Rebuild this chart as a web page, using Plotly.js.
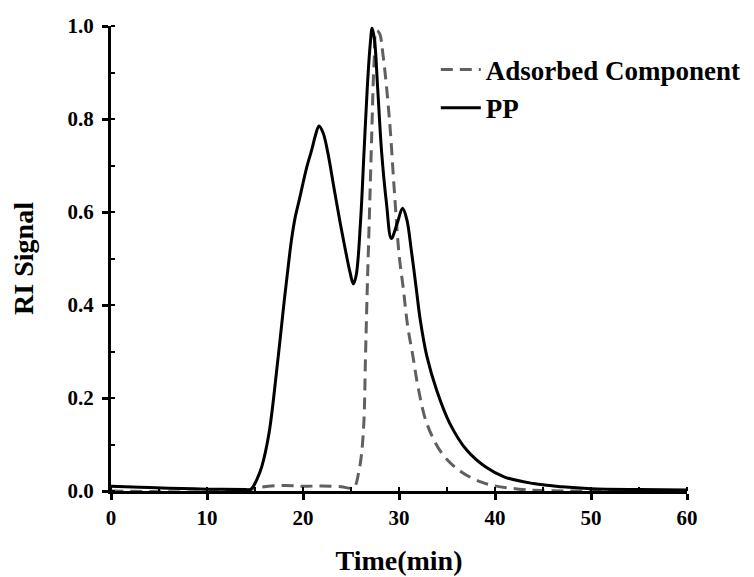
<!DOCTYPE html>
<html>
<head>
<meta charset="utf-8">
<script src="https://cdn.plot.ly/plotly-3.0.1.min.js"></script>
<style>html,body{margin:0;padding:0;background:#fff;}#chart{width:754px;height:577px;}</style>
</head>
<body>
<div id="chart"></div>
<script>
// Data
var ppTime = [0, 3, 6, 10, 14, 14.5, 14.8, 15.2, 15.7, 16.45, 17.3, 18.05, 18.5, 18.8, 19.2, 19.6, 20.4, 20.9, 21.3, 21.67, 22.1, 22.6, 23.2, 23.8, 24.4, 24.9, 25.25, 25.55, 26.0, 26.35, 26.7, 27.0, 27.2, 27.45, 27.77, 28.2, 28.7, 29.2, 29.8, 30.37, 30.8, 31.3, 31.8, 32.2, 32.9, 33.95, 35.3, 37.05, 39.0, 41.0, 44, 47, 50, 55, 60];
var ppSignal = [0.010, 0.008, 0.006, 0.004, 0.003, 0.003, 0.009, 0.025, 0.052, 0.123, 0.267, 0.41, 0.49, 0.54, 0.59, 0.625, 0.697, 0.733, 0.765, 0.785, 0.77, 0.726, 0.655, 0.585, 0.52, 0.47, 0.445, 0.465, 0.582, 0.726, 0.869, 0.96, 0.995, 0.97, 0.869, 0.726, 0.618, 0.543, 0.575, 0.608, 0.585, 0.515, 0.435, 0.37, 0.29, 0.215, 0.145, 0.088, 0.052, 0.030, 0.016, 0.009, 0.005, 0.003, 0.002];

var adsTime = [0, 14, 15.5, 18, 20, 22, 24, 25.0, 25.4, 25.8, 26.1, 26.35, 26.5, 26.7, 26.9, 27.15, 27.4, 27.65, 27.95, 28.35, 29.0, 29.5, 30.0, 30.45, 30.9, 31.45, 32.0, 32.9, 34.5, 36.5, 38.6, 40.0, 42.5, 45, 60];
var adsSignal = [0.0, 0.001, 0.008, 0.012, 0.010, 0.011, 0.009, 0.006, 0.010, 0.04, 0.08, 0.152, 0.28, 0.44, 0.58, 0.76, 0.92, 0.99, 0.985, 0.935, 0.80, 0.65, 0.51, 0.435, 0.355, 0.29, 0.222, 0.145, 0.08, 0.041, 0.019, 0.011, 0.004, 0.001, 0.0];

var seriesNames = ['Adsorbed Component', 'PP'];
var xTitle = 'Time(min)';
var yTitle = 'RI Signal';

var FONT = 'Liberation Serif, Times New Roman, serif';

var traces = [
  {x: adsTime, y: adsSignal, name: seriesNames[0], type: 'scatter', mode: 'lines',
   line: {color: '#606060', width: 3, dash: '12px,7px', shape: 'spline', smoothing: 1.0}},
  {x: ppTime, y: ppSignal, name: seriesNames[1], type: 'scatter', mode: 'lines',
   line: {color: '#000000', width: 3, shape: 'spline', smoothing: 1.0}}
];

var tickFont = {family: FONT, size: 21, color: '#000', weight: 'bold'};
var layout = {
  width: 754, height: 577,
  margin: {l: 111, r: 67, t: 26, b: 86, autoexpand: false},
  paper_bgcolor: '#fff', plot_bgcolor: '#fff',
  showlegend: true,
  legend: {x: 0.578, xref: 'container', y: 0.958, xanchor: 'left', yanchor: 'top', bgcolor: 'rgba(0,0,0,0)',
           font: {family: FONT, size: 27, color: '#000', weight: 'bold'}, itemwidth: 40, tracegroupgap: 0},
  xaxis: {
    range: [0, 60], dtick: 10, tick0: 0, showgrid: false, zeroline: false,
    showline: true, linewidth: 3, linecolor: '#000', mirror: false,
    ticks: 'outside', ticklen: 6, tickwidth: 3, tickcolor: '#000',
    minor: {dtick: 5, ticks: 'inside', ticklen: 4, tickwidth: 2, tickcolor: '#000', showgrid: false},
    tickfont: tickFont,
    title: {text: xTitle, font: {family: FONT, size: 28, color: '#000', weight: 'bold'}, standoff: 22}
  },
  xaxis2: {
    range: [0, 60], dtick: 10, tick0: 0, overlaying: 'x', side: 'bottom', anchor: 'y',
    showgrid: false, zeroline: false, showline: false, showticklabels: false,
    ticks: 'inside', ticklen: 5, tickwidth: 3, tickcolor: '#000'
  },
  yaxis: {
    range: [0, 1.0], dtick: 0.2, tick0: 0, tickformat: '.1f', showgrid: false, zeroline: false,
    showline: true, linewidth: 3, linecolor: '#000',
    ticks: 'outside', ticklen: 6, tickwidth: 3, tickcolor: '#000',
    minor: {dtick: 0.1, ticks: 'inside', ticklen: 4, tickwidth: 2, tickcolor: '#000', showgrid: false},
    tickfont: tickFont, ticklabelstandoff: 4,
    title: {text: yTitle, font: {family: FONT, size: 28, color: '#000', weight: 'bold'}, standoff: 26}
  },
  yaxis2: {
    range: [0, 1.0], dtick: 0.2, tick0: 0, overlaying: 'y', side: 'left', anchor: 'x',
    showgrid: false, zeroline: false, showline: false, showticklabels: false,
    ticks: 'inside', ticklen: 5, tickwidth: 3, tickcolor: '#000'
  }
};

Plotly.newPlot('chart', traces, layout, {staticPlot: true, displayModeBar: false});
</script>
</body>
</html>
